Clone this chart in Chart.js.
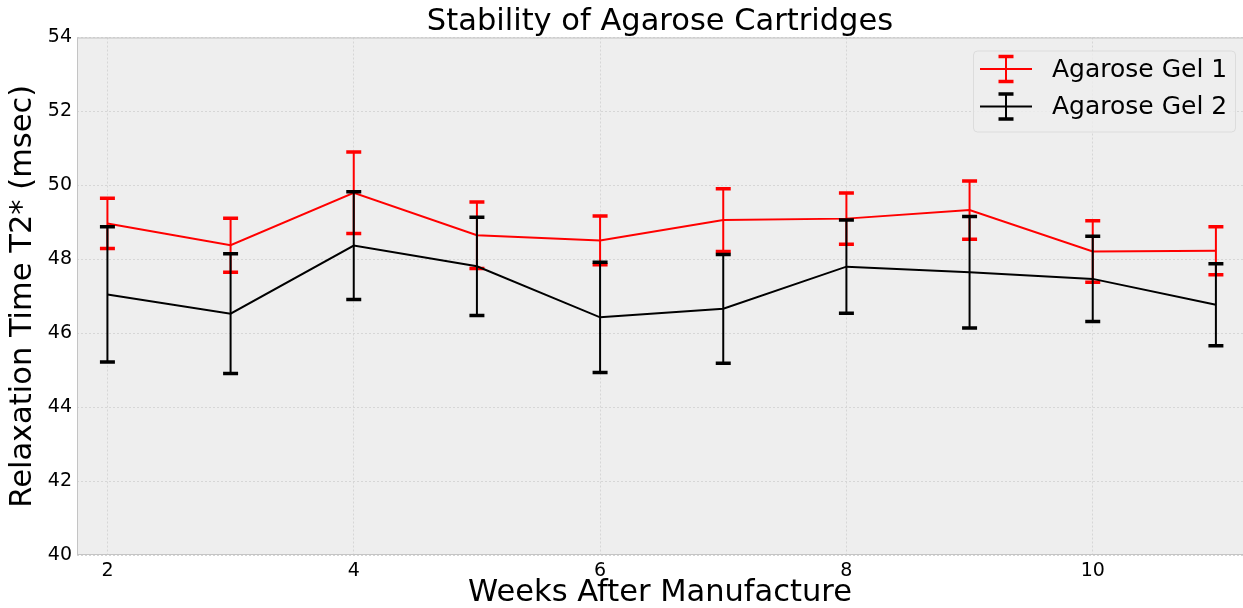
<!DOCTYPE html>
<html>
<head>
<meta charset="utf-8">
<script src="https://cdn.jsdelivr.net/npm/chart.js@4/dist/chart.umd.min.js"></script>
<style>
  html, body { margin: 0; padding: 0; background: #ffffff; }
  canvas { display: block; }
</style>
</head>
<body>
<canvas id="stability" width="1243" height="608"></canvas>
<script>
// Weeks after manufacture
const weeks = [2, 3, 4, 5, 6, 7, 8, 9, 10, 11];

// Agarose Gel 1: mean T2* and error (msec)
const gel1Mean = [48.97, 48.38, 49.80, 48.65, 48.51, 49.06, 49.10, 49.33, 48.21, 48.23];
const gel1Err = [0.68, 0.73, 1.10, 0.90, 0.66, 0.85, 0.69, 0.79, 0.83, 0.65];

// Agarose Gel 2: mean T2* and error (msec)
const gel2Mean = [47.05, 46.53, 48.37, 47.81, 46.43, 46.66, 47.80, 47.65, 47.47, 46.77];
const gel2Err = [1.83, 1.62, 1.46, 1.33, 1.49, 1.47, 1.26, 1.51, 1.15, 1.11];

const xTicks = [2, 4, 6, 8, 10];
const yTicks = [40, 42, 44, 46, 48, 50, 52, 54];

const seriesNames = ["Agarose Gel 1", "Agarose Gel 2"];
const seriesColors = ["#ff0000", "#000000"];

const FONT = "'DejaVu Sans', sans-serif";
const CAP_HALF = 7.5;

function toPoints(xs, ys) {
    return xs.map(function (x, i) { return { x: x, y: ys[i] }; });
}

// draws one vertical error bar with caps at the given pixel positions
function drawErrorGlyph(ctx, x, yTop, yBottom, color) {
    ctx.save();
    ctx.strokeStyle = color;
    ctx.lineWidth = 2;
    ctx.beginPath();
    ctx.moveTo(x, yTop);
    ctx.lineTo(x, yBottom);
    ctx.stroke();
    ctx.lineWidth = 3.5;
    ctx.beginPath();
    ctx.moveTo(x - CAP_HALF, yTop);
    ctx.lineTo(x + CAP_HALF, yTop);
    ctx.moveTo(x - CAP_HALF, yBottom);
    ctx.lineTo(x + CAP_HALF, yBottom);
    ctx.stroke();
    ctx.restore();
}

const plotFrame = {
    id: "plotFrame",
    beforeDraw: function (chart) {
        const a = chart.chartArea;
        const ctx = chart.ctx;
        ctx.save();
        ctx.fillStyle = "#eeeeee";
        ctx.fillRect(a.left, a.top, a.right - a.left, a.bottom - a.top);
        ctx.restore();
    },
    beforeDatasetsDraw: function (chart) {
        const a = chart.chartArea;
        const ctx = chart.ctx;
        ctx.save();
        ctx.strokeStyle = "#c4c4c4";
        ctx.lineWidth = 1;
        ctx.strokeRect(a.left + 0.5, a.top + 0.5, a.right - a.left, a.bottom - a.top - 1);
        ctx.restore();
    }
};

const errorBars = {
    id: "errorBars",
    afterDatasetDraw: function (chart, args) {
        const ds = chart.data.datasets[args.index];
        if (!ds.errors) {
            return;
        }
        const xs = chart.scales.x;
        const ys = chart.scales.y;
        const ctx = chart.ctx;
        const a = chart.chartArea;
        ctx.save();
        ctx.beginPath();
        ctx.rect(a.left, a.top, a.right - a.left, a.bottom - a.top);
        ctx.clip();
        ds.data.forEach(function (p, i) {
            const px = xs.getPixelForValue(p.x);
            const top = ys.getPixelForValue(p.y + ds.errors[i]);
            const bottom = ys.getPixelForValue(p.y - ds.errors[i]);
            drawErrorGlyph(ctx, px, top, bottom, ds.borderColor);
        });
        ctx.restore();
    }
};

const errorLegend = {
    id: "errorLegend",
    afterDraw: function (chart) {
        const ctx = chart.ctx;
        const a = chart.chartArea;
        const boxRight = a.right - 8;
        const boxLeft = boxRight - 262;
        const boxTop = a.top + 13;
        const boxHeight = 81;
        ctx.save();
        ctx.fillStyle = "rgba(238, 238, 238, 0.8)";
        ctx.strokeStyle = "#dcdcdc";
        ctx.lineWidth = 1;
        ctx.beginPath();
        ctx.roundRect(boxLeft + 0.5, boxTop + 0.5, boxRight - boxLeft, boxHeight, 4);
        ctx.fill();
        ctx.stroke();

        ctx.font = "25px " + FONT;
        ctx.textBaseline = "middle";
        ctx.textAlign = "left";
        seriesNames.forEach(function (name, i) {
            const cy = boxTop + 18.5 + i * 37.5;
            const color = seriesColors[i];
            ctx.strokeStyle = color;
            ctx.lineWidth = 2;
            ctx.beginPath();
            ctx.moveTo(boxLeft + 7, cy);
            ctx.lineTo(boxLeft + 59, cy);
            ctx.stroke();
            drawErrorGlyph(ctx, boxLeft + 33, cy - 12.5, cy + 12.5, color);
            ctx.fillStyle = "#000000";
            ctx.fillText(name, boxLeft + 79, cy + 1);
        });
        ctx.restore();
    }
};

new Chart(document.getElementById("stability"), {
    type: "line",
    data: {
        datasets: [
            {
                label: seriesNames[0],
                data: toPoints(weeks, gel1Mean),
                errors: gel1Err,
                borderColor: seriesColors[0],
                borderWidth: 2,
                pointRadius: 0,
                tension: 0,
                fill: false,
                order: 1
            },
            {
                label: seriesNames[1],
                data: toPoints(weeks, gel2Mean),
                errors: gel2Err,
                borderColor: seriesColors[1],
                borderWidth: 2,
                pointRadius: 0,
                tension: 0,
                fill: false,
                order: 0
            }
        ]
    },
    options: {
        responsive: false,
        devicePixelRatio: 1,
        animation: false,
        layout: { padding: 0 },
        plugins: {
            legend: { display: false },
            tooltip: { enabled: false },
            title: {
                display: true,
                fullSize: false,
                text: "Stability of Agarose Cartridges",
                color: "#000000",
                font: { family: FONT, size: 30.5, weight: "normal", lineHeight: 1 },
                padding: { top: 7, bottom: 0 }
            }
        },
        scales: {
            x: {
                type: "linear",
                min: 1.753,
                max: 11.22,
                afterBuildTicks: function (scale) {
                    scale.ticks = xTicks.map(function (v) { return { value: v }; });
                },
                afterFit: function (scale) { scale.height = 53; },
                ticks: {
                    color: "#000000",
                    font: { family: FONT, size: 19 },
                    padding: 5,
                    maxRotation: 0
                },
                grid: { color: "#d6d6d6", lineWidth: 1, drawTicks: false },
                border: { display: false, dash: [2, 2] },
                title: {
                    display: true,
                    text: "Weeks After Manufacture",
                    color: "#000000",
                    font: { family: FONT, size: 30.5, lineHeight: 1 },
                    padding: 0
                }
            },
            y: {
                min: 40,
                max: 54,
                afterBuildTicks: function (scale) {
                    scale.ticks = yTicks.map(function (v) { return { value: v }; });
                },
                afterFit: function (scale) { scale.width = 77; },
                ticks: {
                    color: "#000000",
                    font: { family: FONT, size: 19 },
                    padding: 5
                },
                grid: { color: "#d6d6d6", lineWidth: 1, drawTicks: false },
                border: { display: false, dash: [2, 2] },
                title: {
                    display: true,
                    text: "Relaxation Time T2* (msec)",
                    color: "#000000",
                    font: { family: FONT, size: 30.5, lineHeight: 1 },
                    padding: { top: 8, bottom: 0 }
                }
            }
        }
    },
    plugins: [plotFrame, errorBars, errorLegend]
});
</script>
</body>
</html>
